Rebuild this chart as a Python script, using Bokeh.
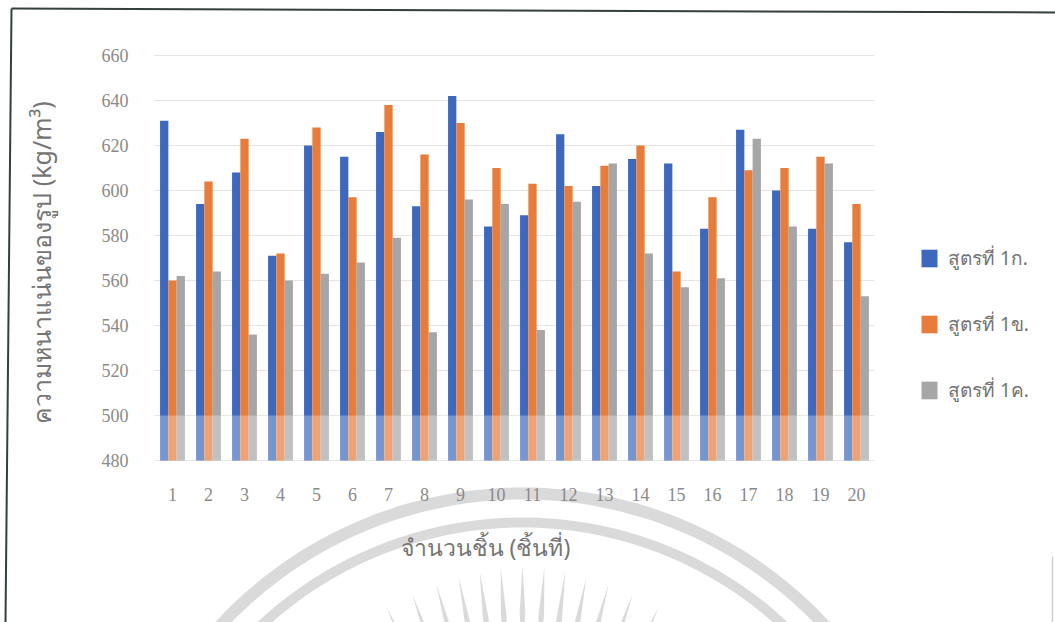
import math

from bokeh.plotting import figure
from bokeh.models import (ColumnDataSource, Range1d, FixedTicker,
                          Legend, LegendItem, BoxAnnotation, PolyAnnotation)
from bokeh.transform import dodge
from bokeh.embed import file_html
from bokeh.resources import INLINE

# ---- data -------------------------------------------------------------
pieces = list(range(1, 21))
series_names = ["สูตรที่ 1ก.", "สูตรที่ 1ข.", "สูตรที่ 1ค."]
density_1a = [631, 594, 608, 571, 620, 615, 626, 593, 642, 584,
              589, 625, 602, 614, 612, 583, 627, 600, 583, 577]
density_1b = [560, 604, 623, 572, 628, 597, 638, 616, 630, 610,
              603, 602, 611, 620, 564, 597, 609, 610, 615, 594]
density_1c = [562, 564, 536, 560, 563, 568, 579, 537, 596, 594,
              538, 595, 612, 572, 557, 561, 623, 584, 612, 553]
y_ticks = [480, 500, 520, 540, 560, 580, 600, 620, 640, 660]
y_title = "ความหนาแน่นของรูป (kg/m³)"
x_title = "จำนวนชิ้น (ชิ้นที่)"

# ---- layout -----------------------------------------------------------
W, H = 1055, 622
PX_PER_PIECE = 36.0          # horizontal spacing of the groups
FIRST_CENTER = 172.0         # pixel of the first group centre
FRAME_T, FRAME_B = 55.0, 460.0
px_per_unit = (FRAME_B - FRAME_T) / (y_ticks[-1] - y_ticks[0])

x_lo = pieces[0] - FIRST_CENTER / PX_PER_PIECE
x_hi = x_lo + W / PX_PER_PIECE
y_hi = y_ticks[-1] + FRAME_T / px_per_unit
y_lo = y_ticks[0] - (H - FRAME_B) / px_per_unit

THAI_FONT = "Noto Sans"
NUM_FONT = "Liberation Serif"
colors = ["#3d68bd", "#e87c3a", "#a6a6a6"]

source = ColumnDataSource(dict(piece=pieces, a=density_1a, b=density_1b, c=density_1c))

p = figure(width=W, height=H, x_range=Range1d(x_lo, x_hi), y_range=Range1d(y_lo, y_hi),
           output_backend="svg", toolbar_location=None,
           min_border_left=0, min_border_right=0, min_border_top=0, min_border_bottom=0)
p.outline_line_color = None
p.background_fill_color = "white"
p.border_fill_color = "white"
p.xgrid.visible = False
p.ygrid.visible = False

# horizontal gridlines over the category span
left_edge, right_edge = pieces[0] - 0.5, pieces[-1] + 0.5
p.segment(x0=[left_edge] * len(y_ticks), x1=[right_edge] * len(y_ticks),
          y0=y_ticks, y1=y_ticks, line_color="#e5e5e5", line_width=1)

# clustered bars
bar_w = 0.23
renderers = []
for col, off, c in zip(["a", "b", "c"], [-bar_w, 0, bar_w], colors):
    r = p.vbar(x=dodge("piece", off), top=col, bottom=y_ticks[0],
               width=bar_w, source=source, fill_color=c, line_color=None)
    renderers.append(r)

# faded band across the lowest interval
p.add_layout(BoxAnnotation(left=left_edge, right=right_edge, bottom=y_ticks[0], top=y_ticks[1],
                           fill_color="white", fill_alpha=0.3, line_color=None, level="overlay"))

# axes pinned to the edges of the bar area
xa, ya = p.xaxis[0], p.yaxis[0]
xa.fixed_location = y_ticks[0]
ya.fixed_location = left_edge
xa.ticker = FixedTicker(ticks=pieces)
ya.ticker = FixedTicker(ticks=y_ticks)
xa.bounds = (-1.12, right_edge)
ya.bounds = (476, y_ticks[-1])
for ax in (xa, ya):
    ax.axis_line_color = None
    ax.major_tick_line_color = None
    ax.minor_tick_line_color = None
    ax.major_label_text_font = NUM_FONT
    ax.major_label_text_font_size = "18px"
    ax.major_label_text_color = "#8a8a8a"
    ax.axis_label_text_font = THAI_FONT
    ax.axis_label_text_font_style = "normal"
    ax.axis_label_text_color = "#757575"
ya.major_label_standoff = 20
ya.axis_label = y_title
ya.axis_label_text_font_size = "25px"
ya.axis_label_standoff = 41
xa.major_label_standoff = 21
xa.axis_label = x_title
xa.axis_label_text_font_size = "23px"
xa.axis_label_standoff = 27

legend = Legend(items=[LegendItem(label=n, renderers=[r]) for n, r in zip(series_names, renderers)],
                location=(919, 217), padding=6, spacing=36, glyph_width=20, glyph_height=22,
                label_height=18, label_standoff=9, border_line_color=None,
                background_fill_alpha=0, label_text_font=THAI_FONT,
                label_text_font_size="19px", label_text_color="#747474")
p.add_layout(legend, "center")

# ---- page decoration: scan border and faint seal ---------------------
def poly(xs, ys, color, alpha=1.0, level="underlay", line=None, lw=1):
    p.add_layout(PolyAnnotation(xs=list(xs), ys=list(ys), xs_units="canvas", ys_units="canvas",
                                fill_color=color if line is None else None,
                                fill_alpha=alpha, line_color=line, line_width=lw,
                                line_alpha=1.0, level=level))

cx, cy = 522, 905
def band(r_in, r_out, a0=-70, a1=70, n=120):
    angs = [math.radians(a0 + (a1 - a0) * i / n) for i in range(n + 1)]
    xs = [cx + r_out * math.sin(a) for a in angs] + [cx + r_in * math.sin(a) for a in reversed(angs)]
    ys = [cy - r_out * math.cos(a) for a in angs] + [cy - r_in * math.cos(a) for a in reversed(angs)]
    return xs, ys

seal = "#d6d6d6"
for r_in, r_out in [(406, 418), (378, 388)]:
    xs, ys = band(r_in, r_out)
    poly(xs, ys, seal, alpha=0.9)

for ang in [-34, -29, -24.5, -19.5, -15, -11, -7.3, -3.7, 0, 3.7, 7.3, 11, 15, 19.5, 24.5, 29, 34]:
    a = math.radians(ang)
    r_out = 340 - 0.5 * abs(ang)
    r_in = r_out - 95
    r_mid = (r_out + r_in) / 2
    half = 2.8
    ux, uy = math.sin(a), -math.cos(a)
    nx, ny = math.cos(a), math.sin(a)
    pts = [(cx + ux * r_out, cy + uy * r_out),
           (cx + ux * r_mid + nx * half, cy + uy * r_mid + ny * half),
           (cx + ux * r_in, cy + uy * r_in),
           (cx + ux * r_mid - nx * half, cy + uy * r_mid - ny * half)]
    poly([q[0] for q in pts], [q[1] for q in pts], seal, alpha=0.9)

# border of the scanned page
poly([11, 5], [8, 622], None, line="#34403a", lw=2, level="overlay")
poly([11, 1055], [8, 12], None, line="#34403a", lw=2, level="overlay")
poly([1052, 1052], [556, 622], None, line="#d0d0d0", lw=1.5, level="overlay")

open("out.html", "w").write(file_html(p, INLINE))
